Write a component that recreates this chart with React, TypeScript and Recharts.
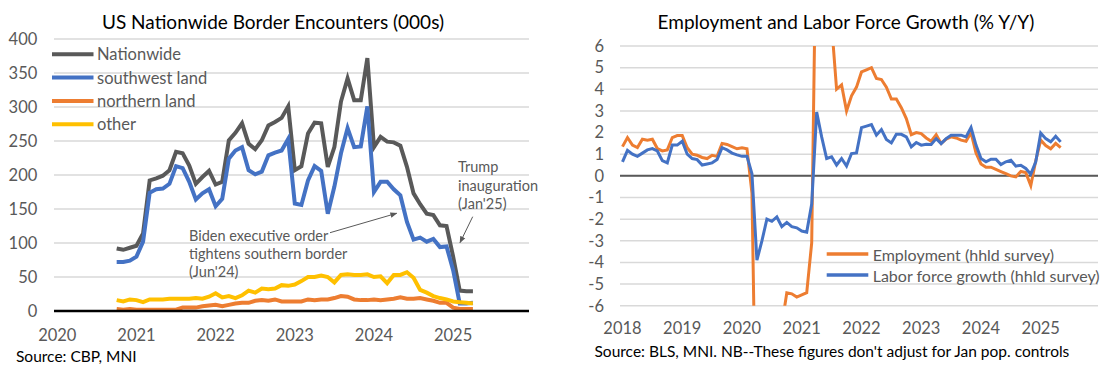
import React from "react";
import { LineChart, Line, XAxis, YAxis, CartesianGrid, ReferenceLine } from "recharts";

const FONT = "Lato, 'Open Sans', sans-serif";
const GRID = "#d9d9d9";
const MUTED = "#595959";

// US border encounters, thousands, monthly from Oct 2020
const borderStart = "2020-10";
const borderYears = ["2020", "2021", "2022", "2023", "2024", "2025"];
const nationwide = [
  92, 90, 93, 96, 114, 192, 195, 199, 207, 234,
  232, 214, 187, 197, 206, 186, 190, 251, 262, 276,
  246, 238, 251, 273, 278, 284, 301, 207, 213, 261,
  277, 276, 212, 241, 308, 342, 310, 310, 372, 241,
  256, 249, 248, 243, 212, 173, 157, 143, 141, 126,
  125, 80, 30, 29, 29,
];
const southwestLand = [
  72, 72, 74, 80, 102, 174, 179, 180, 187, 213,
  210, 190, 164, 173, 179, 154, 165, 224, 236, 241,
  207, 201, 205, 229, 233, 236, 253, 158, 156, 192,
  213, 206, 143, 183, 232, 269, 241, 242, 301, 175,
  190, 190, 179, 170, 131, 105, 108, 102, 106, 94,
  95, 60, 11, 11, 12,
];
const northernLand = [
  3, 2, 3, 2, 2, 2, 2, 2, 2, 2,
  5, 5, 5, 7, 8, 9, 7, 9, 11, 12,
  12, 15, 16, 15, 17, 14, 14, 14, 14, 17,
  16, 17, 17, 19, 22, 21, 17, 16, 16, 17,
  16, 17, 18, 20, 18, 18, 19, 17, 15, 12,
  12, 5, 3, 3, 3,
];
const otherEntries = [
  16, 14, 17, 16, 13, 17, 17, 17, 18, 18,
  18, 18, 19, 18, 21, 26, 20, 22, 19, 23,
  30, 27, 33, 32, 33, 38, 37, 39, 44, 50,
  50, 52, 50, 42, 53, 54, 53, 53, 54, 50,
  51, 41, 53, 53, 57, 49, 31, 27, 22, 19,
  17, 14, 13, 12, 11,
];

// household survey, % y/y, monthly from Jan 2018
const laborStart = "2018-01";
const laborYears = ["2018", "2019", "2020", "2021", "2022", "2023", "2024", "2025"];
const employment = [
  1.35, 1.77, 1.42, 1.31, 1.69, 1.65, 1.69, 1.26, 1.15, 1.2,
  1.77, 1.86, 1.86, 1.3, 1.0, 0.95, 0.85, 0.8, 0.95, 0.9,
  1.5, 1.45, 1.35, 1.25, 1.3, 1.25, -0.8, -14.8, -12.6, -10.1,
  -9.5, -7.3, -6.9, -5.4, -5.45, -5.6, -5.5, -5.4, -3.1, 13.4,
  11.0, 9.0, 7.0, 4.0, 4.2, 3.0, 3.7, 4.1, 4.8, 4.9,
  5.0, 4.5, 4.45, 4.1, 3.55, 3.55, 3.15, 2.65, 1.9, 2.0,
  1.95, 1.75, 1.6, 1.9, 1.5, 1.7, 1.8, 1.75, 1.65, 1.6,
  2.0, 1.05, 0.55, 0.4, 0.4, 0.3, 0.2, 0.1, 0.0, -0.05,
  0.2, 0.15, -0.45, 0.7, 1.65, 1.4, 1.25, 1.5, 1.3,
];
const laborForce = [
  0.65, 1.18, 1.0, 0.9, 1.05, 1.2, 1.26, 1.15, 0.7, 0.6,
  1.42, 1.42, 1.6, 1.0, 0.8, 0.75, 0.5, 0.55, 0.6, 0.75,
  1.3, 1.2, 1.05, 0.97, 0.9, 0.9, 0.1, -3.9, -3.0, -2.0,
  -2.1, -1.9, -2.35, -2.15, -2.35, -2.4, -2.55, -2.6, -1.3, 2.95,
  1.8, 0.8, 0.88, 0.5, 0.8, 0.45, 1.03, 1.06, 2.23, 2.3,
  2.37, 1.88, 2.14, 1.68, 1.52, 1.92, 1.92, 1.8, 1.34, 1.54,
  1.42, 1.46, 1.45, 1.72, 1.49, 1.72, 1.88, 1.88, 1.88, 1.8,
  2.23, 1.42, 0.8, 0.65, 0.77, 0.77, 0.52, 0.65, 0.72, 0.45,
  0.49, 0.34, 0.08, 0.65, 1.98, 1.72, 1.57, 1.83, 1.57,
];

const borderSeries = [
  { key: "nationwide", name: "Nationwide", color: "#595959" },
  { key: "southwest", name: "southwest land", color: "#4472C4" },
  { key: "northern", name: "northern land", color: "#ED7D31" },
  { key: "other", name: "other", color: "#FFC000" },
];
const laborSeries = [
  { key: "employment", name: "Employment (hhld survey)", color: "#ED7D31" },
  { key: "laborForce", name: "Labor force growth (hhld survey)", color: "#4472C4" },
];

// months since January of the first axis year; points sit mid-month like Excel's "between tick marks"
function monthsFrom(year: string, start: string) {
  const [ys, ms] = start.split("-").map(Number);
  return (ys - Number(year)) * 12 + (ms - 1) + 0.5;
}

const borderOffset = monthsFrom(borderYears[0], borderStart);
const borderData = nationwide.map((v, i) => ({
  m: borderOffset + i,
  nationwide: v,
  southwest: southwestLand[i],
  northern: northernLand[i],
  other: otherEntries[i],
}));
const borderTicks = borderYears.map((_, i) => i * 12 + 0.5);

const laborOffset = monthsFrom(laborYears[0], laborStart);
const laborData = employment.map((v, i) => ({
  m: laborOffset + i,
  employment: v,
  laborForce: laborForce[i],
}));
const laborTicks = laborYears.map((_, i) => i * 12 + 0.5);

const tickStyle = { fill: MUTED, fontSize: 16.5, fontFamily: FONT };

function BorderChart() {
  return (
    <LineChart
      width={560}
      height={366}
      data={borderData}
      margin={{ top: 39, right: 31, bottom: 25, left: 0 }}
    >
      <CartesianGrid vertical={false} stroke={GRID} strokeWidth={1.5} />
      <XAxis
        type="number"
        dataKey="m"
        domain={[0, 72]}
        ticks={borderTicks}
        interval={0}
        tickFormatter={(v: number) => borderYears[Math.floor(v / 12)]}
        axisLine={{ stroke: "#000", strokeWidth: 2.5 }}
        tickLine={false}
        height={30}
        tickMargin={12.2}
        tick={tickStyle}
      />
      <YAxis
        domain={[0, 400]}
        ticks={[0, 50, 100, 150, 200, 250, 300, 350, 400]}
        interval={0}
        axisLine={false}
        tickLine={false}
        width={54}
        tickMargin={10.7}
        tick={tickStyle}
      />
      {borderSeries.map((s) => (
        <Line
          key={s.key}
          dataKey={s.key}
          name={s.name}
          stroke={s.color}
          strokeWidth={4}
          dot={false}
          isAnimationActive={false}
        />
      ))}
    </LineChart>
  );
}

function LaborChart() {
  return (
    <LineChart
      width={552}
      height={366}
      data={laborData}
      margin={{ top: 46, right: 14, bottom: 30.3, left: 0 }}
    >
      <CartesianGrid vertical={false} stroke={GRID} strokeWidth={1.5} />
      <XAxis
        type="number"
        dataKey="m"
        domain={[0, 96]}
        ticks={laborTicks}
        interval={0}
        tickFormatter={(v: number) => laborYears[Math.floor(v / 12)]}
        axisLine={false}
        tickLine={false}
        height={30}
        tickMargin={10.8}
        tick={tickStyle}
      />
      <YAxis
        domain={[-6, 6]}
        ticks={[-6, -5, -4, -3, -2, -1, 0, 1, 2, 3, 4, 5, 6]}
        interval={0}
        allowDataOverflow
        axisLine={false}
        tickLine={false}
        width={60}
        tickMargin={10}
        tick={tickStyle}
      />
      <ReferenceLine y={0} stroke="#595959" strokeWidth={2} />
      {laborSeries.map((s) => (
        <Line
          key={s.key}
          dataKey={s.key}
          name={s.name}
          stroke={s.color}
          strokeWidth={3}
          dot={false}
          isAnimationActive={false}
        />
      ))}
    </LineChart>
  );
}

function LegendBlock({ items, x, y, lineLen, gap, rowH, fontSize, stroke }: any) {
  return (
    <g>
      {items.map((s: any, i: number) => (
        <g key={s.key}>
          <line x1={x} y1={y + i * rowH} x2={x + lineLen} y2={y + i * rowH} stroke={s.color} strokeWidth={stroke} />
          <text
            x={x + lineLen + gap}
            y={y + i * rowH}
            dominantBaseline="central"
            fontFamily={FONT}
            fontSize={fontSize}
            fill={MUTED}
          >
            {s.name}
          </text>
        </g>
      ))}
    </g>
  );
}

function Overlay() {
  const t = { fontFamily: FONT, fontSize: 14.5, fill: MUTED };
  return (
    <svg width={1112} height={366} style={{ position: "absolute", left: 0, top: 0, pointerEvents: "none" }}>
      <defs>
        <marker id="arr" viewBox="0 0 10 10" refX="9" refY="5" markerWidth="7" markerHeight="7" orient="auto">
          <path d="M0,1 L10,5 L0,9 z" fill={MUTED} />
        </marker>
      </defs>
      <LegendBlock items={borderSeries} x={52} y={54.3} lineLen={41.5} gap={3.5} rowH={23.3} fontSize={16.5} stroke={4} />
      <LegendBlock items={laborSeries} x={826.7} y={254} lineLen={41.6} gap={4.4} rowH={21} fontSize={16} stroke={3.5} />
      <text x={189} y={235.7} dominantBaseline="central" {...t}>Biden executive order</text>
      <text x={189} y={253.3} dominantBaseline="central" {...t}>tightens southern border</text>
      <text x={189} y={271.7} dominantBaseline="central" {...t}>(Jun'24)</text>
      <line x1={330} y1={232.7} x2={396.7} y2={213.3} stroke={MUTED} strokeWidth={1} markerEnd="url(#arr)" />
      <text x={458} y={166.7} dominantBaseline="central" {...t}>Trump</text>
      <text x={458} y={185} dominantBaseline="central" {...t}>inauguration</text>
      <text x={458} y={203.3} dominantBaseline="central" {...t}>(Jan'25)</text>
      <line x1={472.7} y1={216.7} x2={460} y2={242.7} stroke={MUTED} strokeWidth={1} markerEnd="url(#arr)" />
    </svg>
  );
}

export default function App() {
  const title = {
    position: "absolute" as const,
    top: 10,
    fontFamily: FONT,
    fontSize: 19,
    color: "#000",
    textAlign: "center" as const,
    whiteSpace: "nowrap" as const,
  };
  const source = {
    position: "absolute" as const,
    fontFamily: FONT,
    fontSize: 15.5,
    color: "#000",
    whiteSpace: "nowrap" as const,
  };
  return (
    <div style={{ position: "absolute", left: 0, top: 0, width: 1112, height: 366, background: "#fff", overflow: "hidden" }}>
      <div style={{ position: "absolute", left: 0, top: 0 }}>
        <BorderChart />
      </div>
      <div style={{ position: "absolute", left: 560, top: 0 }}>
        <LaborChart />
      </div>
      <div style={{ ...title, left: 73, width: 400 }}>US Nationwide Border Encounters (000s)</div>
      <div style={{ ...title, left: 646, width: 400 }}>Employment and Labor Force Growth (% Y/Y)</div>
      <div style={{ ...source, left: 16, top: 346.5 }}>Source: CBP, MNI</div>
      <div style={{ ...source, left: 594.5, top: 342 }}>Source: BLS, MNI. NB--These figures don't adjust for Jan pop. controls</div>
      <Overlay />
    </div>
  );
}
